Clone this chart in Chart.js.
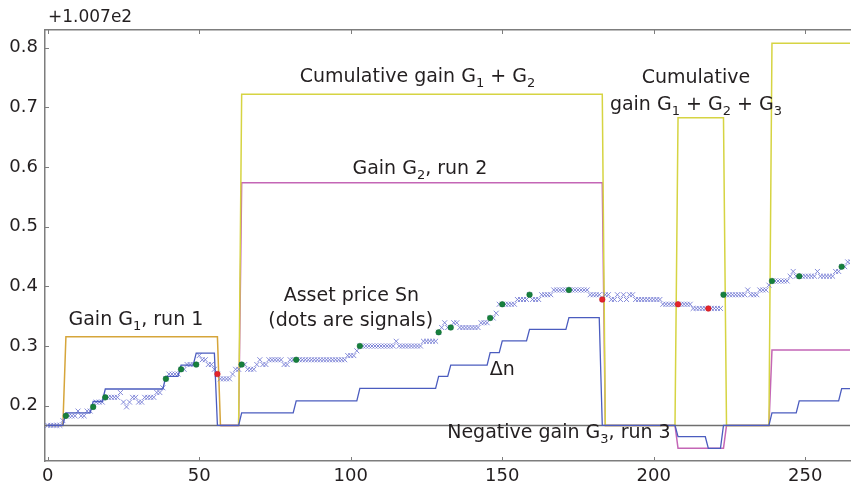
<!DOCTYPE html>
<html><head><meta charset="utf-8">
<script src="https://cdn.jsdelivr.net/npm/chart.js@4/dist/chart.umd.min.js"></script>
<style>html,body{margin:0;padding:0;background:#fff;}#wrap{width:855px;height:487px;}</style>
</head><body><div id="wrap"><canvas id="c" width="855" height="487" style="width:855px;height:487px"></canvas></div>
<script>
// ---------------- data ----------------
const axisOffsetLabel = '+1.007e2';
const xTickValues = [0, 50, 100, 150, 200, 250];
const xTickLabels = ['0', '50', '100', '150', '200', '250'];
const yTickValues = [100.9, 101.0, 101.1, 101.2, 101.3, 101.4, 101.5];
const yTickLabels = ['0.2', '0.3', '0.4', '0.5', '0.6', '0.7', '0.8'];

// asset price S_n, n = 0..265
const price = [
100.867,100.867,100.867,100.867,100.867,100.875,100.883,100.883,100.883,100.883,
100.891,100.883,100.883,100.891,100.891,100.898,100.906,100.906,100.906,100.914,
100.914,100.914,100.914,100.914,100.922,100.906,100.898,100.906,100.914,100.914,
100.906,100.906,100.914,100.914,100.914,100.914,100.922,100.922,100.930,100.945,
100.953,100.953,100.953,100.953,100.961,100.961,100.969,100.969,100.969,100.969,
100.984,100.977,100.977,100.969,100.969,100.961,100.953,100.945,100.945,100.945,
100.945,100.953,100.961,100.961,100.969,100.969,100.961,100.961,100.961,100.969,
100.977,100.969,100.969,100.977,100.977,100.977,100.977,100.977,100.969,100.969,
100.977,100.977,100.977,100.977,100.977,100.977,100.977,100.977,100.977,100.977,
100.977,100.977,100.977,100.977,100.977,100.977,100.977,100.977,100.977,100.984,
100.984,100.984,100.992,101.000,101.000,101.000,101.000,101.000,101.000,101.000,
101.000,101.000,101.000,101.000,101.000,101.008,101.000,101.000,101.000,101.000,
101.000,101.000,101.000,101.000,101.008,101.008,101.008,101.008,101.008,101.023,
101.031,101.039,101.031,101.031,101.039,101.039,101.031,101.031,101.031,101.031,
101.031,101.031,101.031,101.039,101.039,101.039,101.047,101.047,101.055,101.070,
101.070,101.070,101.070,101.070,101.070,101.078,101.078,101.078,101.078,101.086,
101.078,101.078,101.078,101.086,101.086,101.086,101.086,101.094,101.094,101.094,
101.094,101.094,101.094,101.094,101.094,101.094,101.094,101.094,101.094,101.086,
101.086,101.086,101.086,101.078,101.086,101.086,101.078,101.078,101.086,101.078,
101.086,101.078,101.086,101.086,101.078,101.078,101.078,101.078,101.078,101.078,
101.078,101.078,101.078,101.070,101.070,101.070,101.070,101.070,101.070,101.070,
101.070,101.070,101.070,101.063,101.063,101.063,101.063,101.063,101.063,101.063,
101.063,101.063,101.063,101.086,101.086,101.086,101.086,101.086,101.086,101.086,
101.086,101.094,101.086,101.086,101.086,101.094,101.094,101.094,101.102,101.109,
101.109,101.109,101.109,101.109,101.109,101.117,101.125,101.117,101.117,101.117,
101.117,101.117,101.117,101.117,101.125,101.117,101.117,101.117,101.117,101.117,
101.125,101.125,101.133,101.133,101.141,101.141
];
// signal times (dots sit on the price)
const buySignals  = [6, 15, 19, 39, 44, 49, 64, 82, 103, 129, 133, 146, 150, 159, 172, 223, 239, 248, 262];
const sellSignals = [56, 183, 208, 218];

// Δn step line (vertices)
const deltaNX = [0,5,6,14,15,18,19,38,39,43,44,48,49,55,56,63,64,81,82,102,103,128,129,132,133,145,146,149,150,158,159,171,172,182,183,207,208,217,218,222,223,238,239,247,248,261,262,265];
const deltaNY = [100.867,100.867,100.888,100.888,100.907,100.907,100.928,100.928,100.949,100.949,100.968,100.968,100.988,100.988,100.867,100.867,
100.888,100.888,100.908,100.908,100.929,100.929,100.949,100.949,100.968,100.968,100.989,100.989,101.0085,101.0085,101.028,101.028,101.0475,101.0475,
100.867,100.867,100.848,100.848,100.8286,100.8286,100.867,100.867,100.888,100.888,100.908,100.908,100.9286,100.9286];

// Gain G1, run 1
const gain1X = [0, 5, 6, 56, 57, 63];
const gain1Y = [100.867, 100.867, 101.0156, 101.0156, 100.867, 100.867];
// gain of current run (runs 2, 3, 4)
const gainRunX = [57, 63, 64, 183, 184, 207, 208, 223, 224, 238, 239, 265];
const gainRunY = [100.867, 100.867, 101.2737, 101.2737, 100.867, 100.867, 100.8286, 100.8286, 100.867, 100.867, 100.9933, 100.9933];
// cumulative gain
const cumGainX = [63, 64, 183, 184, 207, 208, 223, 224, 238, 239, 265];
const cumGainY = [100.867, 101.4219, 101.4219, 100.867, 100.867, 101.3827, 101.3827, 100.867, 100.867, 101.5074, 101.5074];
// zero-gain reference line
const baseX = [-1, 265];
const baseY = [100.867, 100.867];

// text annotations (position in data units)
const notes = [
  {parts: [['Gain G',0],['1',1],[', run 1',0]], n: 29.1, v: 101.0465},
  {parts: [['Asset price Sn',0]], n: 100.2, v: 101.0872},
  {parts: [['(dots are signals)',0]], n: 100, v: 101.045},
  {parts: [['Gain G',0],['2',1],[', run 2',0]], n: 122.8, v: 101.300},
  {parts: [['Cumulative gain G',0],['1',1],[' + G',0],['2',1]], n: 122, v: 101.4542},
  {parts: [['Cumulative',0]], n: 213.9, v: 101.4534},
  {parts: [['gain G',0],['1',1],[' + G',0],['2',1],[' + G',0],['3',1]], n: 213.9, v: 101.4073},
  {parts: [['\u0394n',0]], n: 150, v: 100.964},
  {parts: [['Negative gain G',0],['3',1],[', run 3',0]], n: 168.7, v: 100.8576}
];

// ---------------- chart ----------------
const pts = (xs, ys) => xs.map((x, i) => ({x: x, y: ys[i]}));
const pricePts = price.map((p, n) => ({x: n, y: p}));
const sigPts = arr => arr.map(n => ({x: n, y: price[n]}));
const FONT = '"DejaVu Sans", sans-serif';
const TXT = '#231f20';
const AX = '#7d7d7d';

function lineDs(data, color, w) {
  return {data: data, borderColor: color, borderWidth: w, pointRadius: 0, fill: false, tension: 0, showLine: true};
}

const decorPlugin = {
  id: 'decor',
  afterDraw(chart) {
    const {ctx, chartArea: a, scales: {x, y}} = chart;
    ctx.save();
    ctx.strokeStyle = AX; ctx.lineWidth = 1;
    ctx.beginPath();
    xTickValues.forEach(v => {
      const p = Math.round(x.getPixelForValue(v)) + 0.5;
      ctx.moveTo(p, a.bottom); ctx.lineTo(p, a.bottom - 4);
      ctx.moveTo(p, a.top); ctx.lineTo(p, a.top + 4);
    });
    yTickValues.forEach(v => {
      const p = Math.round(y.getPixelForValue(v)) + 0.5;
      ctx.moveTo(a.left, p); ctx.lineTo(a.left + 4, p);
    });
    ctx.stroke();
    ctx.fillStyle = TXT;
    ctx.font = '17px ' + FONT; ctx.textAlign = 'left'; ctx.textBaseline = 'middle';
    ctx.fillText(axisOffsetLabel, a.left + 3, 18);
    const mainF = '19px ' + FONT, subF = '13px ' + FONT;
    ctx.textBaseline = 'alphabetic';
    notes.forEach(nt => {
      let w = 0;
      nt.parts.forEach(([t, s]) => { ctx.font = s ? subF : mainF; w += ctx.measureText(t).width; });
      let cx = x.getPixelForValue(nt.n) - w / 2;
      const base = y.getPixelForValue(nt.v) + 7;
      nt.parts.forEach(([t, s]) => {
        ctx.font = s ? subF : mainF;
        ctx.fillText(t, cx, s ? base + 5 : base);
        cx += ctx.measureText(t).width;
      });
    });
    ctx.restore();
  }
};

new Chart(document.getElementById('c'), {
  type: 'line',
  data: {
    datasets: [
      {data: sigPts(buySignals), showLine: false, pointRadius: 2.8, pointBackgroundColor: '#17803c', pointBorderColor: '#0f6a30', pointBorderWidth: 0.5},
      {data: sigPts(sellSignals), showLine: false, pointRadius: 2.8, pointBackgroundColor: '#e5242a', pointBorderColor: '#c01a20', pointBorderWidth: 0.5},
      lineDs(pts(deltaNX, deltaNY), '#4b5cbf', 1.3),
      {data: pricePts, showLine: false, pointStyle: 'crossRot', pointRadius: 3.5, pointBorderWidth: 1, pointBorderColor: 'rgba(110,118,210,0.85)', pointBackgroundColor: 'rgba(110,118,210,0.85)'},
      lineDs(pts(baseX, baseY), '#6f6f6f', 1.5),
      lineDs(pts(cumGainX, cumGainY), '#d6d442', 1.5),
      lineDs(pts(gainRunX, gainRunY), '#c466b6', 1.5),
      lineDs(pts(gain1X, gain1Y), '#d6a53a', 1.5)
    ]
  },
  options: {
    responsive: false, animation: false, devicePixelRatio: 1,
    layout: {padding: 0},
    plugins: {legend: {display: false}, tooltip: {enabled: false}},
    scales: {
      x: {
        type: 'linear', position: 'bottom', min: -0.9, max: 264.75,
        grid: {display: false, drawTicks: false},
        border: {display: true, color: AX, width: 1.5},
        afterBuildTicks: s => { s.ticks = xTickValues.map(v => ({value: v})); },
        afterFit: s => { s.height = 26; },
        ticks: {padding: 5, color: TXT, font: {family: FONT, size: 18}, maxRotation: 0,
          callback: (v, i) => xTickLabels[i]}
      },
      xt: {
        type: 'linear', axis: 'x', position: 'top', min: -0.9, max: 264.75,
        grid: {display: false, drawTicks: false},
        border: {display: true, color: AX, width: 1.5},
        ticks: {display: false},
        afterFit: s => { s.height = 30; }
      },
      y: {
        type: 'linear', position: 'left', min: 100.8073, max: 101.5297,
        grid: {display: false, drawTicks: false},
        border: {display: true, color: AX, width: 1.5},
        afterBuildTicks: s => { s.ticks = yTickValues.map(v => ({value: v})); },
        afterFit: s => { s.width = 45; },
        ticks: {padding: 7, color: TXT, font: {family: FONT, size: 18},
          callback: (v, i) => yTickLabels[i]}
      }
    }
  },
  plugins: [decorPlugin]
});
</script></body></html>
